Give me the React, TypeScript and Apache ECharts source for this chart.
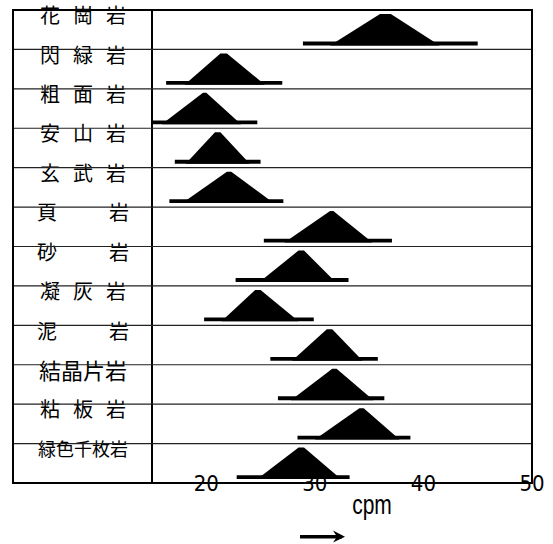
import React, { useEffect, useRef } from "react";
import * as echarts from "echarts";

// Rock types (top to bottom)
const categories = ["花崗岩", "閃緑岩", "粗面岩", "安山岩", "玄武岩", "頁岩", "砂岩", "凝灰岩", "泥岩", "結晶片岩", "粘板岩", "緑色千枚岩"];
// Range of each distribution (cpm)
const rangeMin = [28.9, 16.3, 15.0, 17.1, 16.6, 25.3, 22.7, 19.8, 25.9, 26.6, 28.4, 22.8];
const baseLeft = [31.4, 18.0, 15.9, 18.1, 17.8, 27.2, 24.9, 21.4, 27.9, 27.8, 30.0, 24.7];
const peakLeft = [36.0, 21.3, 19.7, 20.8, 21.9, 31.4, 28.5, 24.5, 31.1, 31.6, 34.1, 28.5];
const peakRight = [37.0, 21.9, 20.0, 21.3, 22.3, 31.7, 29.0, 25.0, 31.6, 32.0, 34.5, 29.0];
const baseRight = [41.5, 25.4, 23.2, 24.0, 26.2, 35.3, 31.9, 28.5, 34.4, 35.4, 37.8, 32.4];
const rangeMax = [45.0, 27.0, 24.7, 25.0, 27.1, 37.1, 33.1, 29.9, 35.8, 36.4, 38.8, 33.2];
// x axis
const xMin = 15;
const xMax = 50;
const xTickStep = 5;
const xLabelStep = 10;
const xAxisName = "cpm";

const CJK = "'Noto Sans CJK JP', 'Noto Sans CJK SC', sans-serif";
const NARROW = "'Liberation Sans Narrow', 'Arial Narrow', 'DejaVu Sans Condensed', 'Liberation Sans', sans-serif";

function labelFormatter(name: string): string {
  const chars = Array.from(name);
  if (chars.length === 4) return `{w4|${name}}`;
  if (chars.length === 5) return `{w5|${name}}`;
  const gap = chars.length === 2 ? "{s|\u3000\u3000\u3000\u3000}" : "{s|\u3000}";
  return chars.map((c) => `{c|${c}}`).join(gap);
}

export default function App() {
  const ref = useRef<HTMLDivElement>(null);

  useEffect(() => {
    if (!ref.current) return;
    const chart = echarts.init(ref.current, undefined, { renderer: "svg" });

    const data = categories.map((_, i) => [
      i,
      rangeMin[i],
      baseLeft[i],
      peakLeft[i],
      peakRight[i],
      baseRight[i],
      rangeMax[i],
    ]);

    const option: any = {
      animation: false,
      backgroundColor: "#ffffff",
      grid: { left: 152, right: 21, top: 10, bottom: 61, containLabel: false },
      xAxis: {
        type: "value",
        min: xMin,
        max: xMax,
        interval: xTickStep,
        axisLine: { show: true, lineStyle: { color: "#000", width: 2 } },
        axisTick: { show: false },
        splitLine: { show: false },
        axisLabel: {
          margin: 0,
          verticalAlign: "middle",
          color: "#000",
          fontSize: 22,
          fontFamily: NARROW,
          showMinLabel: false,
          formatter: (v: number) => (v % xLabelStep === 0 ? String(v) : ""),
        },
      },
      yAxis: {
        type: "category",
        data: categories,
        inverse: true,
        axisLine: { show: true, lineStyle: { color: "#000", width: 2 } },
        axisTick: { show: false },
        splitLine: { show: false },
        axisLabel: {
          margin: 69,
          align: "center",
          verticalAlign: "middle",
          padding: [0, 0, 30, 0],
          formatter: labelFormatter,
          rich: {
            c: { fontSize: 20, fontFamily: CJK, color: "#000" },
            s: { fontSize: 13, fontFamily: CJK, color: "#000" },
            w4: { fontSize: 22, fontFamily: CJK, color: "#000" },
            w5: { fontSize: 18, fontFamily: CJK, color: "#000" },
          },
        },
      },
      series: [
        {
          type: "custom",
          clip: false,
          encode: { x: [1, 2, 3, 4, 5, 6], y: 0 },
          data,
          renderItem: (params: any, api: any) => {
            const idx = api.value(0);
            const band = api.size([0, 1])[1];
            const pMin = api.coord([api.value(1), idx]);
            const pBL = api.coord([api.value(2), idx]);
            const pPL = api.coord([api.value(3), idx]);
            const pPR = api.coord([api.value(4), idx]);
            const pBR = api.coord([api.value(5), idx]);
            const pMax = api.coord([api.value(6), idx]);
            const right = api.coord([xMax, idx])[0];
            const cy = pMin[1];
            const rowTop = cy - band / 2;
            const rowBottom = cy + band / 2;
            const bottom = rowBottom - 4;
            const top = rowTop + 4;
            const children: any[] = [
              {
                type: "rect",
                shape: { x: pMin[0], y: bottom - 3.8, width: pMax[0] - pMin[0], height: 3.8 },
                style: { fill: "#000" },
              },
              {
                type: "polygon",
                shape: {
                  points: [
                    [pBL[0], bottom],
                    [pPL[0], top],
                    [pPR[0], top],
                    [pBR[0], bottom],
                  ],
                },
                style: { fill: "#000" },
              },
            ];
            if (idx > 0) {
              children.push({
                type: "line",
                shape: { x1: 13, y1: rowTop, x2: right, y2: rowTop },
                style: { stroke: "#222", lineWidth: 1.2 },
              });
            }
            return { type: "group", children };
          },
        },
      ],
      graphic: [
        {
          type: "rect",
          shape: { x: 13, y: 10, width: 519, height: 473 },
          style: { fill: "none", stroke: "#000", lineWidth: 2 },
          z: 10,
        },
        {
          type: "text",
          x: 372,
          y: 504,
          scaleX: 0.75,
          style: {
            text: xAxisName,
            fontSize: 28,
            fontFamily: "'Liberation Sans', sans-serif",
            fill: "#000",
            align: "center",
            verticalAlign: "middle",
          },
        },
        {
          type: "line",
          shape: { x1: 300, y1: 536.7, x2: 342, y2: 536.7 },
          style: { stroke: "#000", lineWidth: 3.5 },
        },
        {
          type: "polygon",
          shape: { points: [[333, 530.5], [345, 536.7], [333, 542.5], [337, 536.7]] },
          style: { fill: "#000" },
        },
      ],
    };

    chart.setOption(option);
    return () => chart.dispose();
  }, []);

  return (
    <div
      ref={ref}
      style={{ position: "absolute", left: 0, top: 0, width: 553, height: 544 }}
    />
  );
}
